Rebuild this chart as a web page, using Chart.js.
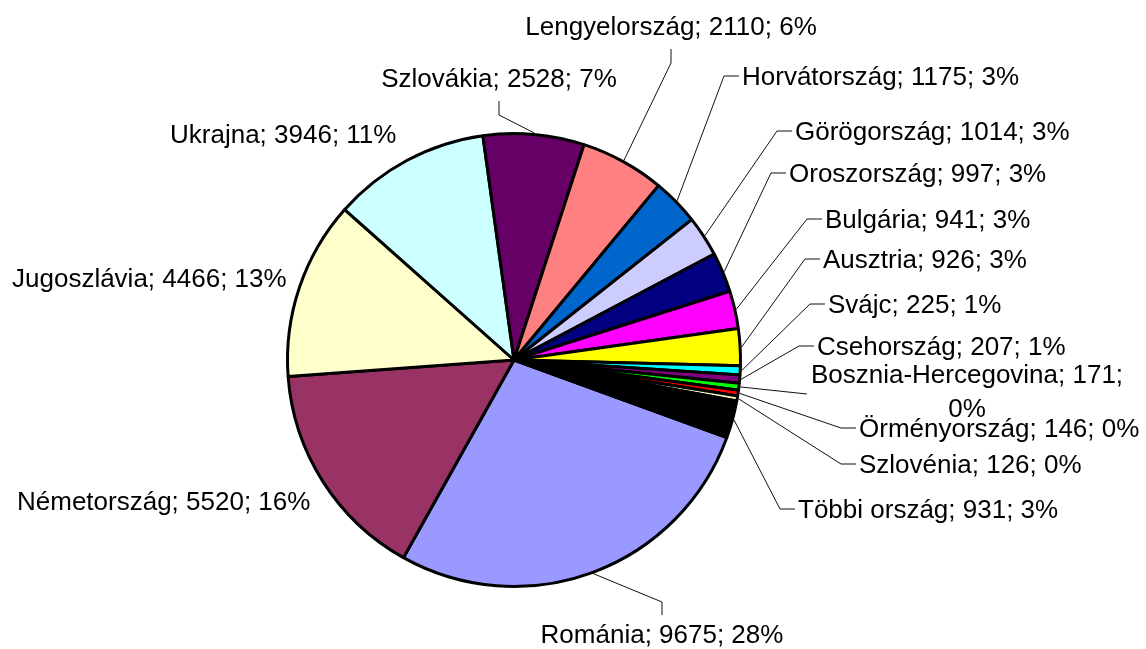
<!DOCTYPE html>
<html>
<head>
<meta charset="utf-8">
<script src="https://cdn.jsdelivr.net/npm/chart.js@4/dist/chart.umd.min.js"></script>
<style>
  html, body { margin: 0; padding: 0; background: #fff; }
  canvas { display: block; }
</style>
</head>
<body>
<canvas id="pie" width="1146" height="649"></canvas>
<script>
// --- adatok ---
const categories = ['Románia', 'Németország', 'Jugoszlávia', 'Ukrajna', 'Szlovákia', 'Lengyelország',
    'Horvátország', 'Görögország', 'Oroszország', 'Bulgária', 'Ausztria', 'Svájc', 'Csehország',
    'Bosznia-Hercegovina', 'Örményország', 'Szlovénia', 'Többi ország'];
const values = [9675, 5520, 4466, 3946, 2528, 2110, 1175, 1014, 997, 941, 926, 225, 207, 171, 146, 126, 931];
const sliceColors = ['#9999FF', '#993366', '#FFFFCC', '#CCFFFF', '#660066', '#FF8080', '#0066CC', '#CCCCFF',
    '#000080', '#FF00FF', '#FFFF00', '#00FFFF', '#800080', '#00FF00', '#FF0000', '#FFFFCC', '#000000'];

// --- címkék elhelyezése (x, alapvonal, típus) ---
// top/bottom: középre igazítva, függőleges csonk; left: balra igazítva, vízszintes csonk
const labelLayout = [
    [662, 643, 'bottom'], [17, 510, 'none'], [12, 287, 'none'], [170, 143, 'none'],
    [499, 87, 'top'], [671, 35, 'top'], [742, 85, 'left'], [795, 140, 'left'],
    [789, 182, 'left'], [825, 228, 'left'], [823, 268, 'left'], [828, 313, 'left'],
    [817, 355, 'left'], [967, 383, 'wrap'], [859, 437, 'left'], [859, 473, 'left'],
    [798, 518, 'left']
];

const total = values.reduce((a, b) => a + b, 0);
const FONT = '26px "Liberation Sans", Arial, sans-serif';

const labelPlugin = {
    id: 'excelLabels',
    afterDraw(chart) {
        const ctx = chart.ctx;
        const arcs = chart.getDatasetMeta(0).data;
        ctx.save();
        ctx.font = FONT;
        ctx.fillStyle = '#000';
        ctx.strokeStyle = '#111';
        ctx.lineWidth = 1;
        arcs.forEach((arc, i) => {
            const p = arc.getProps(['x', 'y', 'startAngle', 'endAngle', 'outerRadius'], true);
            const mid = (p.startAngle + p.endAngle) / 2;
            const r = p.outerRadius + 1.5;
            const ax = p.x + Math.cos(mid) * r;
            const ay = p.y + Math.sin(mid) * r;
            const pct = Math.round(values[i] / total * 100);
            const text = `${categories[i]}; ${values[i]}; ${pct}%`;
            const [lx, ly, kind] = labelLayout[i];
            let pts = null;

            if (kind === 'wrap') {
                const cut = text.lastIndexOf('; ') + 1;
                const l1 = text.slice(0, cut), l2 = text.slice(cut + 1);
                ctx.textAlign = 'center';
                ctx.fillText(l1, lx, ly);
                ctx.fillText(l2, lx, ly + 34);
                const left = lx - ctx.measureText(l1).width / 2;
                pts = [[left - 4, ly + 11]];
            } else if (kind === 'top' || kind === 'bottom') {
                ctx.textAlign = 'center';
                ctx.fillText(text, lx, ly);
                pts = kind === 'top' ? [[lx, ly + 28], [lx, ly + 14]] : [[lx, ly - 41], [lx, ly - 28]];
            } else {
                ctx.textAlign = 'left';
                ctx.fillText(text, lx, ly);
                if (kind === 'left') pts = [[lx - 18, ly - 9], [lx - 3, ly - 9]];
            }

            if (pts) {
                ctx.beginPath();
                ctx.moveTo(ax, ay);
                pts.forEach(q => ctx.lineTo(q[0], q[1]));
                ctx.stroke();
            }
        });
        ctx.restore();
    }
};

new Chart(document.getElementById('pie'), {
    type: 'pie',
    data: {
        labels: categories,
        datasets: [{
            data: values,
            backgroundColor: sliceColors,
            borderColor: '#000',
            borderWidth: 3
        }]
    },
    options: {
        responsive: false,
        animation: false,
        devicePixelRatio: 1,
        rotation: 110,
        layout: { padding: { left: 286, top: 132, right: 404, bottom: 61 } },
        plugins: {
            legend: { display: false },
            tooltip: { enabled: false }
        }
    },
    plugins: [labelPlugin]
});
</script>
</body>
</html>
